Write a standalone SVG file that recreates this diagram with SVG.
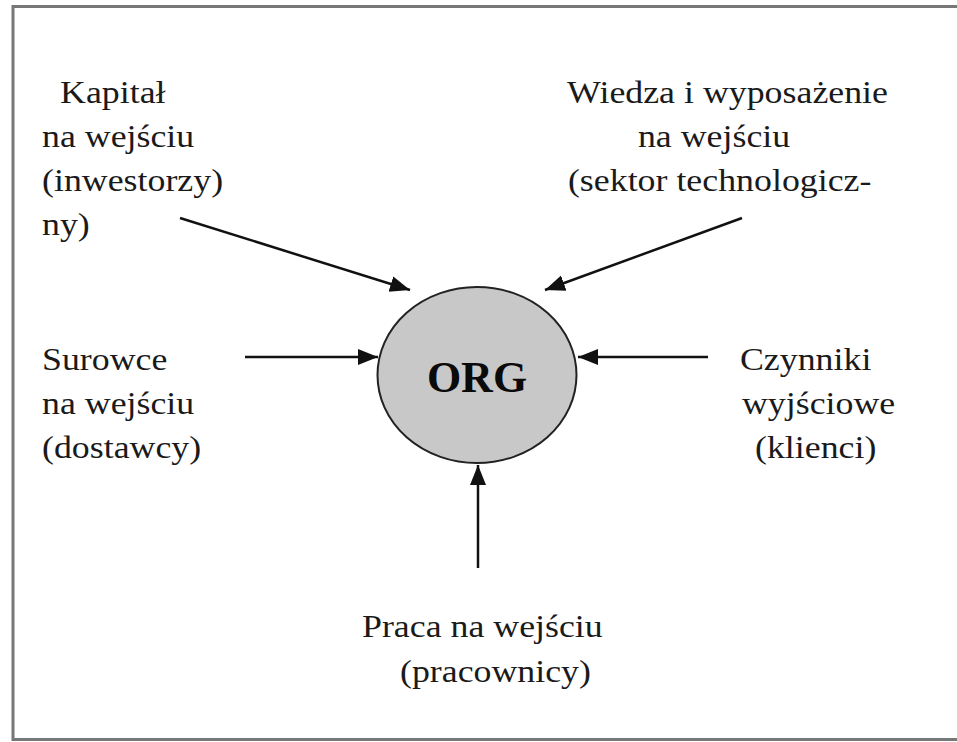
<svg xmlns="http://www.w3.org/2000/svg" width="957" height="742" viewBox="0 0 957 742">
<style>
.lbl{font-family:"Liberation Serif","Times New Roman",serif;font-size:32px;fill:#1a1a1a}
.org{font-family:"Liberation Serif","Times New Roman",serif;font-size:44px;font-weight:bold;fill:#0a0a0a}
.arr{stroke:#111;stroke-width:2.5;fill:none;marker-end:url(#ah)}
</style>
<defs>
<marker id="ah" markerUnits="userSpaceOnUse" markerWidth="22" markerHeight="18" refX="20" refY="8" orient="auto">
<path d="M0,0 L20,8 L0,16 z" fill="#111"/>
</marker>
</defs>
<rect width="957" height="742" fill="#fff"/>
<rect id="frame" x="13" y="6.5" width="960" height="733" fill="none" stroke="#777" stroke-width="3"/>
<g id="connectors">
<line class="arr" x1="180" y1="218" x2="410" y2="290"/>
<line class="arr" x1="742" y1="218" x2="545" y2="290"/>
<line class="arr" x1="245" y1="357" x2="378" y2="357"/>
<line class="arr" x1="708" y1="357" x2="578" y2="357"/>
<line class="arr" x1="478" y1="568" x2="478" y2="465"/>
</g>
<g id="org">
<ellipse cx="477" cy="375" rx="99.5" ry="88" fill="#c8c8c8" stroke="#222" stroke-width="2"/>
<text class="org" x="477" y="392" text-anchor="middle">ORG</text>
</g>
<g transform="scale(1.12,1)">
<g id="kapital">
<text class="lbl" x="53.6" y="103">Kapitał</text>
<text class="lbl" x="37.5" y="147">na wejściu</text>
<text class="lbl" x="37.5" y="191">(inwestorzy)</text>
<text class="lbl" x="37.5" y="235">ny)</text>
</g>
<g id="wiedza">
<text class="lbl" x="506.3" y="103">Wiedza i wyposażenie</text>
<text class="lbl" x="569.6" y="147">na wejściu</text>
<text class="lbl" x="507.1" y="191">(sektor technologicz-</text>
</g>
<g id="surowce">
<text class="lbl" x="37.5" y="370">Surowce</text>
<text class="lbl" x="37.5" y="414">na wejściu</text>
<text class="lbl" x="37.5" y="458">(dostawcy)</text>
</g>
<g id="czynniki">
<text class="lbl" x="660.7" y="370">Czynniki</text>
<text class="lbl" x="662.5" y="414">wyjściowe</text>
<text class="lbl" x="674.1" y="458">(klienci)</text>
</g>
<g id="praca">
<text class="lbl" x="323.2" y="637">Praca na wejściu</text>
<text class="lbl" x="357.1" y="682">(pracownicy)</text>
</g>
</g>
</svg>
